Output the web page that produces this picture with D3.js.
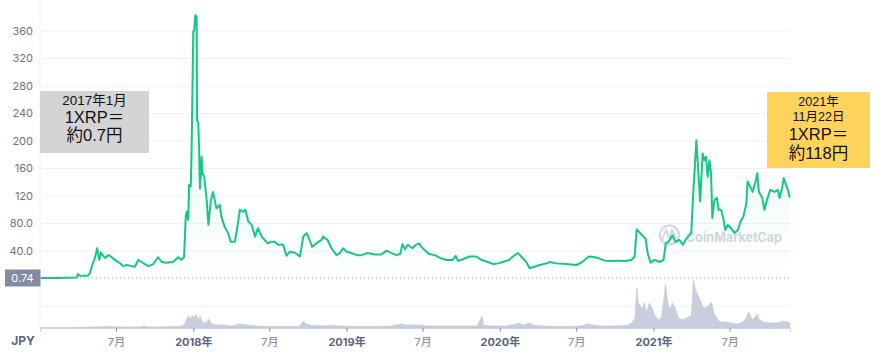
<!DOCTYPE html>
<html><head><meta charset="utf-8">
<script src="https://cdn.jsdelivr.net/npm/d3@7"></script>
<style>body{margin:0;background:#fff;} svg{display:block;font-family:Inter,"Noto Sans",sans-serif;}</style>
</head><body><svg id="c" width="878" height="353"></svg>
<script>
const priceDates = ["2017-01-01","2017-02-17","2017-03-30","2017-04-01","2017-04-06","2017-04-25","2017-04-30","2017-05-07","2017-05-12","2017-05-17","2017-05-22","2017-05-26","2017-05-30","2017-06-05","2017-06-13","2017-06-21","2017-06-28","2017-07-10","2017-07-18","2017-07-26","2017-08-07","2017-08-15","2017-08-23","2017-08-31","2017-09-08","2017-09-16","2017-09-28","2017-10-09","2017-10-18","2017-10-29","2017-11-14","2017-11-26","2017-12-04","2017-12-10","2017-12-14","2017-12-16","2017-12-20","2017-12-22","2017-12-26","2017-12-28","2018-01-01","2018-01-03","2018-01-06","2018-01-09","2018-01-10","2018-01-13","2018-01-15","2018-01-17","2018-01-21","2018-01-23","2018-01-27","2018-02-02","2018-02-06","2018-02-12","2018-02-17","2018-02-25","2018-03-05","2018-03-09","2018-03-17","2018-03-25","2018-03-31","2018-04-10","2018-04-16","2018-04-22","2018-04-30","2018-05-05","2018-05-12","2018-05-20","2018-05-28","2018-06-04","2018-06-13","2018-06-20","2018-06-28","2018-07-06","2018-07-14","2018-07-22","2018-08-03","2018-08-11","2018-08-19","2018-08-31","2018-09-12","2018-09-20","2018-09-28","2018-10-05","2018-10-11","2018-10-21","2018-11-02","2018-11-06","2018-11-17","2018-11-26","2018-12-08","2018-12-16","2018-12-24","2019-01-01","2019-01-13","2019-01-25","2019-02-05","2019-02-21","2019-03-09","2019-03-25","2019-04-06","2019-04-18","2019-04-30","2019-05-09","2019-05-14","2019-05-20","2019-05-27","2019-06-07","2019-06-15","2019-06-23","2019-06-28","2019-07-06","2019-07-16","2019-07-30","2019-08-15","2019-08-27","2019-09-11","2019-09-18","2019-09-23","2019-10-05","2019-10-21","2019-11-06","2019-11-18","2019-12-04","2019-12-16","2019-12-28","2020-01-08","2020-01-23","2020-02-01","2020-02-13","2020-02-21","2020-03-04","2020-03-12","2020-03-24","2020-04-05","2020-04-21","2020-04-29","2020-05-14","2020-06-07","2020-07-01","2020-07-13","2020-07-31","2020-08-14","2020-08-25","2020-09-06","2020-09-22","2020-10-08","2020-10-24","2020-11-09","2020-11-17","2020-11-22","2020-11-29","2020-12-05","2020-12-13","2020-12-18","2020-12-25","2021-01-04","2021-01-15","2021-01-25","2021-01-30","2021-02-06","2021-02-15","2021-02-22","2021-03-04","2021-03-12","2021-03-20","2021-04-01","2021-04-05","2021-04-09","2021-04-13","2021-04-17","2021-04-22","2021-04-28","2021-05-02","2021-05-06","2021-05-10","2021-05-14","2021-05-18","2021-05-21","2021-05-26","2021-06-01","2021-06-05","2021-06-11","2021-06-17","2021-06-21","2021-06-27","2021-07-05","2021-07-13","2021-07-21","2021-07-27","2021-08-03","2021-08-10","2021-08-13","2021-08-19","2021-08-25","2021-09-01","2021-09-05","2021-09-09","2021-09-17","2021-09-22","2021-09-28","2021-10-06","2021-10-16","2021-10-24","2021-10-28","2021-11-03","2021-11-07","2021-11-11","2021-11-17","2021-11-21","2021-11-22"];
const priceValues = [0.7,0.7,1.5,6.5,4,4,8,22.5,30,44,27,38,34,30,34,31,27,22.5,18,19.6,18,17,27,24,21,18,21,31,24,23,24,31,27,31,90,97,85,136,134,187,359,361,383,381,230,226,187,131,177,153,148,114,78,114,126,102,107,90,75,66,53.5,53.5,75,100,97,100,83,78,61,73,61,56,51,53.5,53.5,49,49,33,39,37.5,32,61,66,56,46,51,56,61,56,44,34,37,44,39,37,34,34,37,35,35,40.5,37,34,36,50,42.5,49,44,49,51,46,41.5,35.6,34,29,27,27,33,25.5,28,32,32,27,24,21,22,24,27,32,37,32,24,15,17,19.6,22,24,22,21,19.6,23,32,31,29,26,25.5,26,25.5,27,32,71.5,66.6,63,58,37,23,27,24,27,51,53.5,63,53.5,56,49,58,66,119,158,201,163,112,182,172,177,148,172,153,88,114,117,100,100,85,70.5,78,73,66,70.5,83,90,109,141,134,126,141,153,126,117,100,114,129,126,129,117,131,146,139,129,119,118];

const volumeDates = ["2017-01-01","2017-04-01","2017-05-10","2017-06-10","2017-07-10","2017-08-10","2017-09-01","2017-09-05","2017-09-12","2017-10-10","2017-11-10","2017-12-05","2017-12-12","2017-12-15","2017-12-20","2017-12-25","2017-12-30","2018-01-04","2018-01-08","2018-01-12","2018-01-17","2018-01-22","2018-02-01","2018-02-06","2018-02-15","2018-03-01","2018-03-15","2018-04-01","2018-04-20","2018-05-10","2018-06-01","2018-07-01","2018-08-01","2018-09-10","2018-09-21","2018-09-25","2018-10-05","2018-11-01","2018-11-20","2018-12-20","2019-01-15","2019-02-15","2019-03-15","2019-04-15","2019-05-14","2019-05-20","2019-06-10","2019-06-25","2019-07-15","2019-08-15","2019-09-15","2019-10-01","2019-10-20","2019-11-08","2019-11-20","2019-11-23","2019-12-15","2020-01-15","2020-02-10","2020-02-15","2020-02-25","2020-03-12","2020-03-20","2020-04-15","2020-05-15","2020-06-15","2020-07-10","2020-07-31","2020-08-10","2020-09-01","2020-10-01","2020-11-01","2020-11-10","2020-11-18","2020-11-22","2020-11-26","2020-12-01","2020-12-05","2020-12-10","2020-12-15","2020-12-22","2020-12-25","2020-12-29","2021-01-05","2021-01-12","2021-01-20","2021-01-30","2021-02-02","2021-02-08","2021-02-15","2021-02-22","2021-03-01","2021-03-10","2021-03-20","2021-04-01","2021-04-06","2021-04-10","2021-04-14","2021-04-20","2021-04-28","2021-05-05","2021-05-12","2021-05-19","2021-05-25","2021-06-05","2021-06-15","2021-06-25","2021-07-05","2021-07-20","2021-08-01","2021-08-10","2021-08-15","2021-08-25","2021-09-05","2021-09-10","2021-09-20","2021-10-05","2021-10-20","2021-11-05","2021-11-15","2021-11-22"];
const volumeValues = [0.3,0.4,1,1.5,1,1,1.2,2.5,1.2,1,1.5,2,4,8,12,9,13,10,14,8,12,6,5,9,4,3,3,2,4,3,2,1.5,1.5,1.5,7,4,3,2,2.5,2,1.5,1.5,1.5,2,4,3,3,3,2,2,2,2,2,2,12,3,2,2,4,5,3,5,3,2,1.5,1.5,2,4,3,2,2,3,5,10,40,25,22,18,25,15,25,22,20,12,8,10,44,30,18,25,20,10,8,10,12,48,40,35,30,22,20,22,26,15,7,6,6,5,4,6,10,16,8,14,8,6,5,5,7,6,5];

const yGridValues = [-40,40,80,120,160,200,240,280,320,360];
const yTickValues = [40,80,120,160,200,240,280,320,360];
const yTickLabels = ["40.0","80.0","120","160","200","240","280","320","360"];
const xTickDates = ["2017-07-01","2018-01-01","2018-07-01","2019-01-01","2019-07-01","2020-01-01","2020-07-01","2021-01-01","2021-07-01"];
const xTickLabels = ["7月","2018年","7月","2019年","7月","2020年","7月","2021年","7月"];
const startLabel = ["2017年1月","1XRP＝","約0.7円"];
const endLabel = ["2021年","11月22日","1XRP＝","約118円"];
const lastPriceLabel = "0.74";
const currencyLabel = "JPY";

const parse = d3.timeParse("%Y-%m-%d");
const price = priceDates.map((d,i)=>({date:parse(d), v:priceValues[i]}));
const volume = volumeDates.map((d,i)=>({date:parse(d), v:volumeValues[i]}));

const svg = d3.select("#c");
const L = 40, R = 790, B = 328;
const x = d3.scaleTime().domain([parse("2017-01-01"), parse("2021-11-22")]).range([L, R]);
const y = d3.scaleLinear().domain([-72, 392]).range([B, 9]);
const yv = d3.scaleLinear().domain([0, 50]).range([B, 278]);

// gridlines
svg.append("g").selectAll("line").data(yGridValues).join("line")
  .attr("x1", L).attr("x2", R).attr("y1", d=>y(d)).attr("y2", d=>y(d))
  .attr("stroke", "#eff2f5").attr("stroke-width", 1);

// gradient
const defs = svg.append("defs");
const g = defs.append("linearGradient").attr("id","gr").attr("x1",0).attr("x2",0).attr("y1",0).attr("y2",1);
g.append("stop").attr("offset","0%").attr("stop-color","#16c784").attr("stop-opacity",0.16);
g.append("stop").attr("offset","100%").attr("stop-color","#16c784").attr("stop-opacity",0.0);

svg.append("path").datum(price)
  .attr("d", d3.area().x(d=>x(d.date)).y0(y(0)).y1(d=>y(d.v)))
  .attr("fill","url(#gr)").attr("stroke","none");

// dotted reference line
svg.append("line").attr("x1", L).attr("x2", R).attr("y1", y(0.74)).attr("y2", y(0.74))
  .attr("stroke","#a6b0c3").attr("stroke-width",1).attr("stroke-dasharray","1,3");

// volume
svg.append("path").datum(volume)
  .attr("d", d3.area().x(d=>x(d.date)).y0(yv(0)).y1(d=>yv(d.v)))
  .attr("fill","#c8cedd").attr("stroke","#c0c7d8").attr("stroke-width",0.6);

// watermark
const wm = svg.append("g").attr("opacity",0.5);
wm.append("circle").attr("cx",669.5).attr("cy",235).attr("r",9.5).attr("fill","none").attr("stroke","#a9b1c4").attr("stroke-width",2.2);
wm.append("path").attr("d","M662,240 L666,230 L669,238 L672,230 L676,238").attr("fill","none").attr("stroke","#a9b1c4").attr("stroke-width",2);
wm.append("text").attr("x",686).attr("y",241.5).text("CoinMarketCap")
  .attr("font-size",13.5).attr("font-weight",700).attr("fill","#a9b1c4")
  .attr("textLength",96).attr("lengthAdjust","spacingAndGlyphs");

// price line
svg.append("path").datum(price)
  .attr("d", d3.line().x(d=>x(d.date)).y(d=>y(d.v)))
  .attr("fill","none").attr("stroke","#16c784").attr("stroke-width",2).attr("stroke-linejoin","round");

// left axis line
svg.append("line").attr("x1",L).attr("x2",L).attr("y1",0).attr("y2",B).attr("stroke","#eff2f5");

// y labels
svg.append("g").selectAll("text").data(yTickValues).join("text")
  .attr("x",33).attr("y",d=>y(d)).attr("dy","0.35em").attr("text-anchor","end")
  .attr("font-size",11).attr("fill","#6a7488").text((d,i)=>yTickLabels[i]);

// last-price box
svg.append("rect").attr("x",5).attr("y",y(0.74)-8.5).attr("width",35.5).attr("height",17).attr("fill","#858ca2");
svg.append("text").attr("x",22.5).attr("y",y(0.74)).attr("dy","0.35em").attr("text-anchor","middle")
  .attr("font-size",11).attr("fill","#fff").text(lastPriceLabel);

// x axis
const xa = svg.append("g").attr("transform",`translate(0,${B})`)
  .call(d3.axisBottom(x).tickValues(xTickDates.map(parse)).tickSize(4).tickPadding(6)
    .tickFormat((d,i)=>xTickLabels[i]));
xa.select(".domain").attr("stroke","#cfd6e4");
xa.selectAll(".tick line").attr("stroke","#8a92a6");
xa.selectAll(".tick text").attr("font-size",11).attr("font-family","Inter,'Noto Sans CJK JP',sans-serif")
  .attr("fill",(d,i)=>xTickLabels[i].includes("年")?"#58667e":"#8a92a6")
  .attr("font-weight",(d,i)=>xTickLabels[i].includes("年")?700:500);
svg.append("text").attr("x",23).attr("y",341).attr("dy","0.35em").attr("text-anchor","middle")
  .attr("font-size",12).attr("font-weight",700).attr("fill","#58667e").text(currencyLabel);

// annotation boxes
const jp = "'Liberation Sans','Noto Sans CJK JP',sans-serif";
svg.append("rect").attr("x",40).attr("y",91).attr("width",109).attr("height",62).attr("fill","#d4d4d4");
const sl = [{t:startLabel[0],y:105.3,s:13.5},{t:startLabel[1],y:123,s:16.5},{t:startLabel[2],y:140.5,s:16.5}];
svg.append("g").selectAll("text").data(sl).join("text")
  .attr("x",94.5).attr("y",d=>d.y).attr("text-anchor","middle").attr("font-family",jp)
  .attr("font-size",d=>d.s).attr("fill","#111").text(d=>d.t);

svg.append("rect").attr("x",767).attr("y",92).attr("width",103).attr("height",76).attr("fill","#ffd35c");
const el = [{t:endLabel[0],y:106,s:12.5},{t:endLabel[1],y:121,s:12.5},{t:endLabel[2],y:140,s:16.5},{t:endLabel[3],y:158.5,s:16.5}];
svg.append("g").selectAll("text").data(el).join("text")
  .attr("x",818.5).attr("y",d=>d.y).attr("text-anchor","middle").attr("font-family",jp)
  .attr("font-size",d=>d.s).attr("fill","#111").text(d=>d.t);
</script></body></html>
